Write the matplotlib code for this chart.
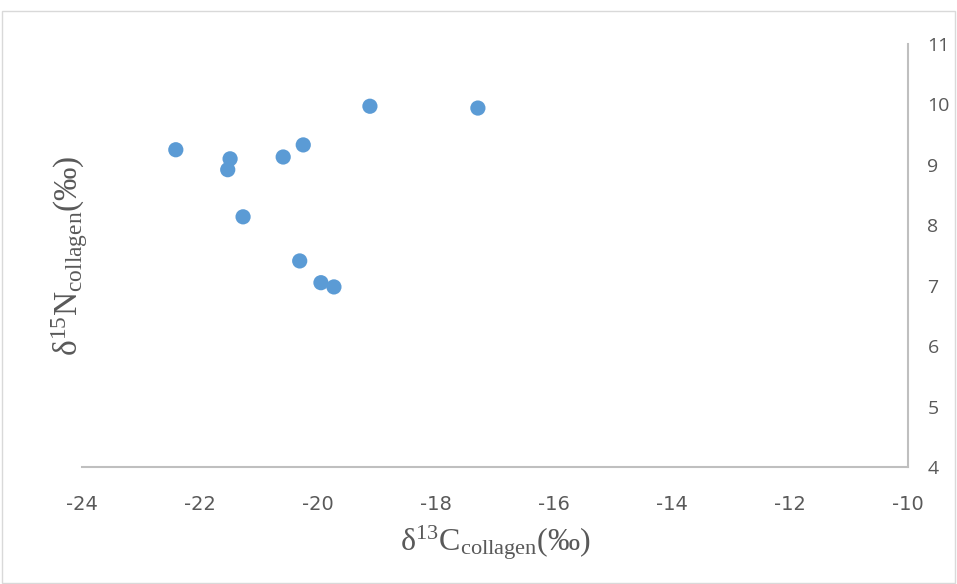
import matplotlib
matplotlib.use("Agg")
import matplotlib.pyplot as plt
from matplotlib.patches import Rectangle

# Data
d13C = [-22.41, -21.49, -21.53, -21.27, -20.59, -20.25, -20.31, -19.95, -19.73, -19.12, -17.29]
d15N = [9.25, 9.10, 8.92, 8.14, 9.13, 9.33, 7.41, 7.05, 6.98, 9.97, 9.94]
x_ticks = [-24, -22, -20, -18, -16, -14, -12, -10]
y_ticks = [4, 5, 6, 7, 8, 9, 10, 11]

plt.rcParams['mathtext.fontset'] = 'custom'
plt.rcParams['mathtext.rm'] = 'Liberation Serif'
plt.rcParams['mathtext.it'] = 'Liberation Serif:italic'

fig = plt.figure(figsize=(9.57, 5.84), dpi=100)
ax = fig.add_axes([82/957, 1-467/584, (908-82)/957, (467-44)/584])

ax.scatter(d13C, d15N, s=120, color='#5B9BD5', edgecolors='none', zorder=3)

ax.set_xlim(-24, -10)
ax.set_ylim(4, 11)
ax.set_xticks(x_ticks)
ax.set_yticks(y_ticks)
ax.set_xticklabels([str(v) for v in x_ticks],
                   family=['Liberation Sans Narrow', 'DejaVu Sans Condensed', 'DejaVu Sans'],
                   fontsize=14, color='#595959')
ax.set_yticklabels([str(v) for v in y_ticks], family=['Open Sans', 'DejaVu Sans'],
                   fontsize=14, color='#595959')

ax.yaxis.tick_right()
ax.tick_params(axis='both', length=0)
ax.tick_params(axis='x', pad=20)
ax.tick_params(axis='y', pad=14)

for s in ['left', 'top']:
    ax.spines[s].set_visible(False)
for s in ['right', 'bottom']:
    ax.spines[s].set_color('#BFBFBF')
    ax.spines[s].set_linewidth(1.5)

ax.set_xlabel(r'$\mathrm{δ}^{13}\mathrm{C}_{\mathrm{collagen}}\mathrm{(‰)}$', fontsize=23, color='#595959', labelpad=7)
ax.set_ylabel(r'$\mathrm{δ}^{15}\mathrm{N}_{\mathrm{collagen}}\mathrm{(‰)}$', fontsize=24, color='#595959', labelpad=-6)
ax.yaxis.set_label_position('left')

fig.patches.append(Rectangle((0.002, 0.002), 0.996, 1-12/584, transform=fig.transFigure,
                             fill=False, edgecolor='#D9D9D9', linewidth=1))

fig.savefig('out.png', dpi=100)
